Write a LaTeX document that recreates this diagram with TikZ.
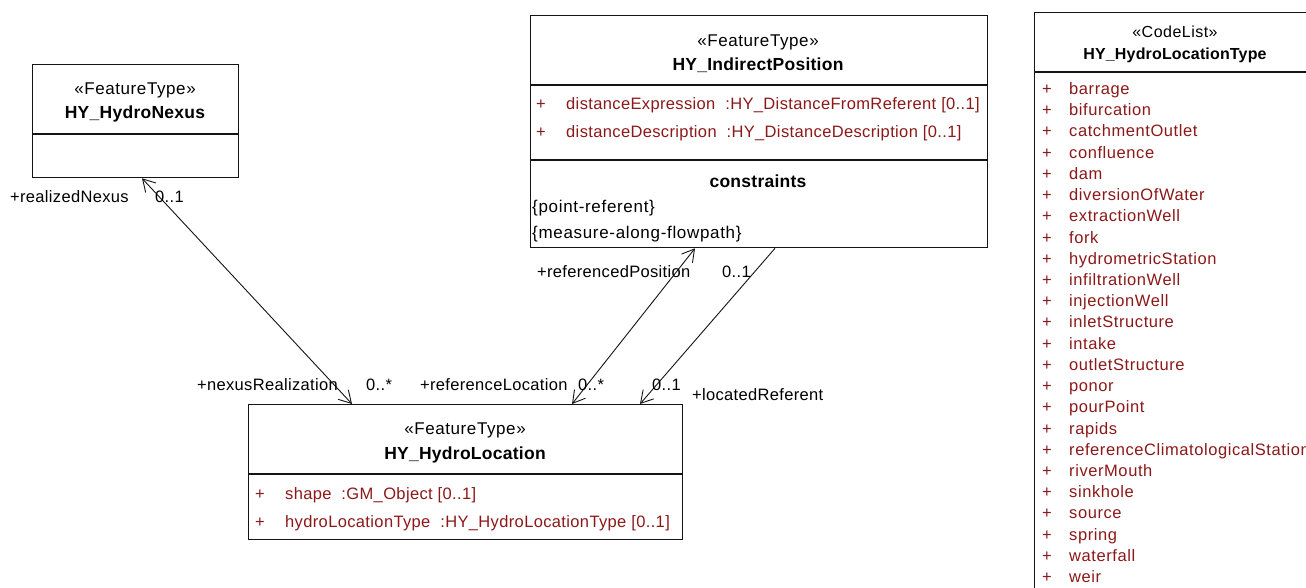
\documentclass[tikz,border=0pt]{standalone}
\usepackage{fontspec}
\setmainfont{Liberation Sans}
\usetikzlibrary{arrows.meta}
\definecolor{attr}{RGB}{140,25,25}
\definecolor{boxline}{RGB}{20,20,20}
\begin{document}
\begin{tikzpicture}[x=1pt,y=-1pt,
  >={Straight Barb[length=12pt,width=14pt,line width=0.9pt]},
  umlbox/.style={draw=boxline, line width=1.3pt, rectangle, inner sep=0pt, anchor=north west},
  divider/.style={draw=boxline, line width=1.3pt},
  stereo/.style={font=\fontsize{17}{19}\selectfont\addfontfeature{LetterSpace=3.5}, inner sep=0pt, anchor=base},
  cname/.style={font=\fontsize{17.5}{20}\selectfont\bfseries\addfontfeature{LetterSpace=1.5}, inner sep=0pt, anchor=base},
  attrtxt/.style={font=\fontsize{16.5}{19}\selectfont\addfontfeature{LetterSpace=2.2}, text=attr, inner sep=0pt, anchor=base west},
  itemtxt/.style={font=\fontsize{16.5}{19}\selectfont\addfontfeature{LetterSpace=3.5}, text=attr, inner sep=0pt, anchor=base west},
  plus/.style={font=\fontsize{16.5}{19}\selectfont, text=attr, inner sep=0pt, anchor=base},
  constr/.style={font=\fontsize{17}{19}\selectfont\addfontfeature{LetterSpace=4}, inner sep=0pt, anchor=base west},
  lbl/.style={font=\fontsize{16.5}{19}\selectfont\addfontfeature{LetterSpace=2}, inner sep=0pt, anchor=base west},
  assoc/.style={draw=boxline, line width=0.9pt}
]
\fill[white] (0,0) rectangle (1306,588);
\useasboundingbox (0,0) rectangle (1306,588);

% HY_HydroNexus
\node[umlbox, minimum width=206pt, minimum height=113pt] (nexus) at (32,64) {};
\node[stereo] (nexusst) at (135,95) {«FeatureType»};
\node[cname] (nexusnm) at (135,119) {HY\_HydroNexus};
\draw[divider] (nexus.west |- 0,134) -- (nexus.east |- 0,134);

% HY_IndirectPosition
\node[umlbox, minimum width=457pt, minimum height=232pt] (indpos) at (530,15) {};
\node[stereo] (indst) at (758,47) {«FeatureType»};
\node[cname] (indnm) at (758,71) {HY\_IndirectPosition};
\draw[divider] (indpos.west |- 0,85) -- (indpos.east |- 0,85);
\node[plus] (indp1) at (541,110) {+};
\node[attrtxt] (inda1) at (566,110) {distanceExpression\ \ :HY\_DistanceFromReferent [0..1]};
\node[plus] (indp2) at (541,138) {+};
\node[attrtxt] (inda2) at (566,138) {distanceDescription\ \ :HY\_DistanceDescription [0..1]};
\draw[divider] (indpos.west |- 0,160) -- (indpos.east |- 0,160);
\node[cname] (indcn) at (758,188) {constraints};
\node[constr] (indc1) at (532,212) {\{point-referent\}};
\node[constr] (indc2) at (532,238) {\{measure-along-flowpath\}};

% HY_HydroLocation
\node[umlbox, minimum width=434pt, minimum height=135pt] (loc) at (248,404) {};
\node[stereo] (locst) at (465,434) {«FeatureType»};
\node[cname] (locnm) at (465,459) {HY\_HydroLocation};
\draw[divider] (loc.west |- 0,474) -- (loc.east |- 0,474);
\node[plus] (locp1) at (260,499) {+};
\node[attrtxt] (loca1) at (285,499) {shape\ \ :GM\_Object [0..1]};
\node[plus] (locp2) at (260,527) {+};
\node[attrtxt] (loca2) at (285,527) {hydroLocationType\ \ :HY\_HydroLocationType [0..1]};

% HY_HydroLocationType
\node[umlbox, minimum width=282pt, minimum height=590pt] (clist) at (1034,12) {};
\node[stereo, font=\fontsize{16}{18}\selectfont\addfontfeature{LetterSpace=3}] (clst) at (1175,38) {«CodeList»};
\node[cname, font=\fontsize{16}{18}\selectfont\bfseries\addfontfeature{LetterSpace=1}] (clnm) at (1175,60) {HY\_HydroLocationType};
\draw[divider] (clist.west |- 0,72) -- (1316,72);
\foreach \t [count=\i from 0] in {barrage,bifurcation,catchmentOutlet,confluence,dam,diversionOfWater,extractionWell,fork,hydrometricStation,infiltrationWell,injectionWell,inletStructure,intake,outletStructure,ponor,pourPoint,rapids,referenceClimatologicalStation,riverMouth,sinkhole,source,spring,waterfall,weir}{
  \node[plus] (clp\i) at (1047,{94.5+21.22*\i}) {+};
  \node[itemtxt] (cli\i) at (1069,{94.5+21.22*\i}) {\t};
}

% associations
\draw[assoc, <->] ([xshift=110pt]nexus.south west) -- ([xshift=104pt]loc.north west);
\draw[assoc, <->] ([xshift=165pt]indpos.south west) -- ([xshift=324pt]loc.north west);
\draw[assoc, ->] ([xshift=245pt]indpos.south west) -- ([xshift=392pt]loc.north west);

% role labels
\node[lbl] (l1) at (10,203) {+realizedNexus};
\node[lbl] (l2) at (155,203) {0..1};
\node[lbl] (l3) at (197,390) {+nexusRealization};
\node[lbl] (l4) at (366,390) {0..*};
\node[lbl] (l5) at (420,390) {+referenceLocation};
\node[lbl] (l6) at (578,390) {0..*};
\node[lbl] (l7) at (652,390) {0..1};
\node[lbl] (l8) at (692,400) {+locatedReferent};
\node[lbl] (l9) at (537,277) {+referencedPosition};
\node[lbl] (l10) at (722,277) {0..1};
\end{tikzpicture}
\end{document}
